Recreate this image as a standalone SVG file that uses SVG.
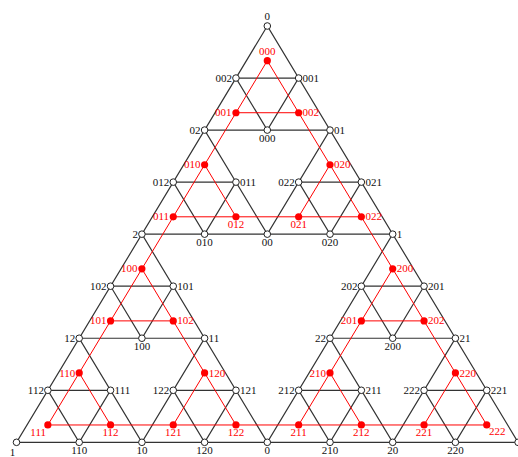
<svg xmlns="http://www.w3.org/2000/svg" width="518" height="457" viewBox="0 0 518 457">
<style>
.bl{stroke:#333;stroke-width:1.2;fill:none}
.rl{stroke:#ff0000;stroke-width:1;fill:none}
.bn{fill:#fff;stroke:#222;stroke-width:1}
.rn{fill:#ff0000;stroke:none}
text{font-family:"Liberation Serif","DejaVu Serif",serif;font-size:11px}
.bt{fill:#111}
.rt{fill:#ff0000}
.l{text-anchor:end}
.r{text-anchor:start}
.c{text-anchor:middle}
</style>
<rect width="518" height="457" fill="#fff"/>
<g id="connectors">
<g id="gasket-edges">
<path class="bl" d="M267.3,26L16.5,442.32L518.1,442.32Z"/>
<path class="bl" d="M141.9,234.16H392.7L267.3,442.32Z"/>
<path class="bl" d="M204.6,130.08H330L267.3,234.16Z"/>
<path class="bl" d="M79.2,338.24H204.6L141.9,442.32Z"/>
<path class="bl" d="M330,338.24H455.4L392.7,442.32Z"/>
<path class="bl" d="M235.95,78.04H298.65L267.3,130.08Z"/>
<path class="bl" d="M173.25,182.12H235.95L204.6,234.16Z"/>
<path class="bl" d="M298.65,182.12H361.35L330,234.16Z"/>
<path class="bl" d="M110.55,286.2H173.25L141.9,338.24Z"/>
<path class="bl" d="M47.85,390.28H110.55L79.2,442.32Z"/>
<path class="bl" d="M173.25,390.28H235.95L204.6,442.32Z"/>
<path class="bl" d="M361.35,286.2H424.05L392.7,338.24Z"/>
<path class="bl" d="M298.65,390.28H361.35L330,442.32Z"/>
<path class="bl" d="M424.05,390.28H486.75L455.4,442.32Z"/>
</g>
<g id="hanoi-edges">
<path class="rl" d="M267.3,60.69L47.85,424.97H486.75Z"/>
<path class="rl" d="M235.95,112.73H298.65"/>
<path class="rl" d="M173.25,216.81H361.35"/>
<path class="rl" d="M110.55,320.89H173.25"/>
<path class="rl" d="M361.35,320.89H424.05"/>
<path class="rl" d="M204.6,164.77L235.95,216.81"/>
<path class="rl" d="M330,164.77L298.65,216.81"/>
<path class="rl" d="M141.9,268.85L235.95,424.97"/>
<path class="rl" d="M392.7,268.85L298.65,424.97"/>
<path class="rl" d="M79.2,372.93L110.55,424.97"/>
<path class="rl" d="M204.6,372.93L173.25,424.97"/>
<path class="rl" d="M330,372.93L361.35,424.97"/>
<path class="rl" d="M455.4,372.93L424.05,424.97"/>
</g>
</g>
<g id="gasket-nodes">
<g id="s-0-0"><circle class="bn" cx="267.3" cy="26" r="3.3"/><text class="bt c" x="267.3" y="20">0</text></g>
<g id="s-1-0"><circle class="bn" cx="235.95" cy="78.04" r="3.3"/><text class="bt l" x="232" y="81.6">002</text></g>
<g id="s-1-1"><circle class="bn" cx="298.65" cy="78.04" r="3.3"/><text class="bt r" x="302.6" y="81.6">001</text></g>
<g id="s-2-0"><circle class="bn" cx="204.6" cy="130.08" r="3.3"/><text class="bt l" x="200.6" y="133.6">02</text></g>
<g id="s-2-1"><circle class="bn" cx="267.3" cy="130.08" r="3.3"/><text class="bt c" x="267.3" y="141.6">000</text></g>
<g id="s-2-2"><circle class="bn" cx="330" cy="130.08" r="3.3"/><text class="bt r" x="334" y="133.6">01</text></g>
<g id="s-3-0"><circle class="bn" cx="173.25" cy="182.12" r="3.3"/><text class="bt l" x="169.3" y="185.7">012</text></g>
<g id="s-3-1"><circle class="bn" cx="235.95" cy="182.12" r="3.3"/><text class="bt r" x="240" y="185.7">011</text></g>
<g id="s-3-2"><circle class="bn" cx="298.65" cy="182.12" r="3.3"/><text class="bt l" x="294.7" y="185.7">022</text></g>
<g id="s-3-3"><circle class="bn" cx="361.35" cy="182.12" r="3.3"/><text class="bt r" x="365.4" y="185.7">021</text></g>
<g id="s-4-0"><circle class="bn" cx="141.9" cy="234.16" r="3.3"/><text class="bt l" x="137.9" y="237.7">2</text></g>
<g id="s-4-1"><circle class="bn" cx="204.6" cy="234.16" r="3.3"/><text class="bt c" x="204.6" y="245.7">010</text></g>
<g id="s-4-2"><circle class="bn" cx="267.3" cy="234.16" r="3.3"/><text class="bt c" x="267.3" y="245.7">00</text></g>
<g id="s-4-3"><circle class="bn" cx="330" cy="234.16" r="3.3"/><text class="bt c" x="330" y="245.7">020</text></g>
<g id="s-4-4"><circle class="bn" cx="392.7" cy="234.16" r="3.3"/><text class="bt r" x="396.7" y="237.7">1</text></g>
<g id="s-5-0"><circle class="bn" cx="110.55" cy="286.2" r="3.3"/><text class="bt l" x="106.6" y="289.7">102</text></g>
<g id="s-5-1"><circle class="bn" cx="173.25" cy="286.2" r="3.3"/><text class="bt r" x="177.3" y="289.7">101</text></g>
<g id="s-5-4"><circle class="bn" cx="361.35" cy="286.2" r="3.3"/><text class="bt l" x="357.4" y="289.7">202</text></g>
<g id="s-5-5"><circle class="bn" cx="424.05" cy="286.2" r="3.3"/><text class="bt r" x="428.1" y="289.7">201</text></g>
<g id="s-6-0"><circle class="bn" cx="79.2" cy="338.24" r="3.3"/><text class="bt l" x="75.2" y="341.8">12</text></g>
<g id="s-6-1"><circle class="bn" cx="141.9" cy="338.24" r="3.3"/><text class="bt c" x="141.9" y="349.8">100</text></g>
<g id="s-6-2"><circle class="bn" cx="204.6" cy="338.24" r="3.3"/><text class="bt r" x="208.6" y="341.8">11</text></g>
<g id="s-6-4"><circle class="bn" cx="330" cy="338.24" r="3.3"/><text class="bt l" x="326" y="341.8">22</text></g>
<g id="s-6-5"><circle class="bn" cx="392.7" cy="338.24" r="3.3"/><text class="bt c" x="392.7" y="349.8">200</text></g>
<g id="s-6-6"><circle class="bn" cx="455.4" cy="338.24" r="3.3"/><text class="bt r" x="459.4" y="341.8">21</text></g>
<g id="s-7-0"><circle class="bn" cx="47.85" cy="390.28" r="3.3"/><text class="bt l" x="43.9" y="393.8">112</text></g>
<g id="s-7-1"><circle class="bn" cx="110.55" cy="390.28" r="3.3"/><text class="bt r" x="114.6" y="393.8">111</text></g>
<g id="s-7-2"><circle class="bn" cx="173.25" cy="390.28" r="3.3"/><text class="bt l" x="169.3" y="393.8">122</text></g>
<g id="s-7-3"><circle class="bn" cx="235.95" cy="390.28" r="3.3"/><text class="bt r" x="240" y="393.8">121</text></g>
<g id="s-7-4"><circle class="bn" cx="298.65" cy="390.28" r="3.3"/><text class="bt l" x="294.7" y="393.8">212</text></g>
<g id="s-7-5"><circle class="bn" cx="361.35" cy="390.28" r="3.3"/><text class="bt r" x="365.4" y="393.8">211</text></g>
<g id="s-7-6"><circle class="bn" cx="424.05" cy="390.28" r="3.3"/><text class="bt l" x="420.1" y="393.8">222</text></g>
<g id="s-7-7"><circle class="bn" cx="486.75" cy="390.28" r="3.3"/><text class="bt r" x="490.8" y="393.8">221</text></g>
<g id="s-8-0"><circle class="bn" cx="16.5" cy="442.32" r="3.3"/><text class="bt c" x="12.5" y="455.5">1</text></g>
<g id="s-8-1"><circle class="bn" cx="79.2" cy="442.32" r="3.3"/><text class="bt c" x="79.2" y="453.9">110</text></g>
<g id="s-8-2"><circle class="bn" cx="141.9" cy="442.32" r="3.3"/><text class="bt c" x="141.9" y="453.9">10</text></g>
<g id="s-8-3"><circle class="bn" cx="204.6" cy="442.32" r="3.3"/><text class="bt c" x="204.6" y="453.9">120</text></g>
<g id="s-8-4"><circle class="bn" cx="267.3" cy="442.32" r="3.3"/><text class="bt c" x="267.3" y="453.9">0</text></g>
<g id="s-8-5"><circle class="bn" cx="330" cy="442.32" r="3.3"/><text class="bt c" x="330" y="453.9">210</text></g>
<g id="s-8-6"><circle class="bn" cx="392.7" cy="442.32" r="3.3"/><text class="bt c" x="392.7" y="453.9">20</text></g>
<g id="s-8-7"><circle class="bn" cx="455.4" cy="442.32" r="3.3"/><text class="bt c" x="455.4" y="453.9">220</text></g>
<g id="s-8-8"><circle class="bn" cx="518.1" cy="442.32" r="3.3"/></g>
</g>
<g id="hanoi-nodes">
<g id="h-000"><circle class="rn" cx="267.3" cy="60.69" r="3.6"/><text class="rt c" x="267.3" y="55">000</text></g>
<g id="h-001"><circle class="rn" cx="235.95" cy="112.73" r="3.6"/><text class="rt l" x="231.6" y="116.3">001</text></g>
<g id="h-002"><circle class="rn" cx="298.65" cy="112.73" r="3.6"/><text class="rt r" x="302.5" y="116.3">002</text></g>
<g id="h-010"><circle class="rn" cx="204.6" cy="164.77" r="3.6"/><text class="rt l" x="200.6" y="168.3">010</text></g>
<g id="h-011"><circle class="rn" cx="173.25" cy="216.81" r="3.6"/><text class="rt l" x="169" y="220.3">011</text></g>
<g id="h-012"><circle class="rn" cx="235.95" cy="216.81" r="3.6"/><text class="rt c" x="235.95" y="227.6">012</text></g>
<g id="h-020"><circle class="rn" cx="330" cy="164.77" r="3.6"/><text class="rt r" x="334" y="168.3">020</text></g>
<g id="h-021"><circle class="rn" cx="298.65" cy="216.81" r="3.6"/><text class="rt c" x="298.65" y="227.6">021</text></g>
<g id="h-022"><circle class="rn" cx="361.35" cy="216.81" r="3.6"/><text class="rt r" x="365.5" y="220.3">022</text></g>
<g id="h-100"><circle class="rn" cx="141.9" cy="268.85" r="3.6"/><text class="rt l" x="137.6" y="272.4">100</text></g>
<g id="h-101"><circle class="rn" cx="110.55" cy="320.89" r="3.6"/><text class="rt l" x="106.4" y="324.4">101</text></g>
<g id="h-102"><circle class="rn" cx="173.25" cy="320.89" r="3.6"/><text class="rt r" x="177.3" y="324.4">102</text></g>
<g id="h-110"><circle class="rn" cx="79.2" cy="372.93" r="3.6"/><text class="rt l" x="75.3" y="376.5">110</text></g>
<g id="h-111"><circle class="rn" cx="47.85" cy="424.97" r="3.6"/><text class="rt l" x="46" y="435.5">111</text></g>
<g id="h-112"><circle class="rn" cx="110.55" cy="424.97" r="3.6"/><text class="rt c" x="110.55" y="435.8">112</text></g>
<g id="h-120"><circle class="rn" cx="204.6" cy="372.93" r="3.6"/><text class="rt r" x="208.8" y="376.5">120</text></g>
<g id="h-121"><circle class="rn" cx="173.25" cy="424.97" r="3.6"/><text class="rt c" x="173.25" y="435.8">121</text></g>
<g id="h-122"><circle class="rn" cx="235.95" cy="424.97" r="3.6"/><text class="rt c" x="235.95" y="435.8">122</text></g>
<g id="h-200"><circle class="rn" cx="392.7" cy="268.85" r="3.6"/><text class="rt r" x="396.8" y="272.4">200</text></g>
<g id="h-201"><circle class="rn" cx="361.35" cy="320.89" r="3.6"/><text class="rt l" x="357.2" y="324.4">201</text></g>
<g id="h-202"><circle class="rn" cx="424.05" cy="320.89" r="3.6"/><text class="rt r" x="428" y="324.4">202</text></g>
<g id="h-210"><circle class="rn" cx="330" cy="372.93" r="3.6"/><text class="rt l" x="326" y="376.5">210</text></g>
<g id="h-211"><circle class="rn" cx="298.65" cy="424.97" r="3.6"/><text class="rt c" x="298.65" y="435.8">211</text></g>
<g id="h-212"><circle class="rn" cx="361.35" cy="424.97" r="3.6"/><text class="rt c" x="361.35" y="435.8">212</text></g>
<g id="h-220"><circle class="rn" cx="455.4" cy="372.93" r="3.6"/><text class="rt r" x="459.4" y="376.5">220</text></g>
<g id="h-221"><circle class="rn" cx="424.05" cy="424.97" r="3.6"/><text class="rt c" x="424.05" y="435.8">221</text></g>
<g id="h-222"><circle class="rn" cx="486.75" cy="424.97" r="3.6"/><text class="rt r" x="489" y="435.3">222</text></g>
</g>
</svg>
